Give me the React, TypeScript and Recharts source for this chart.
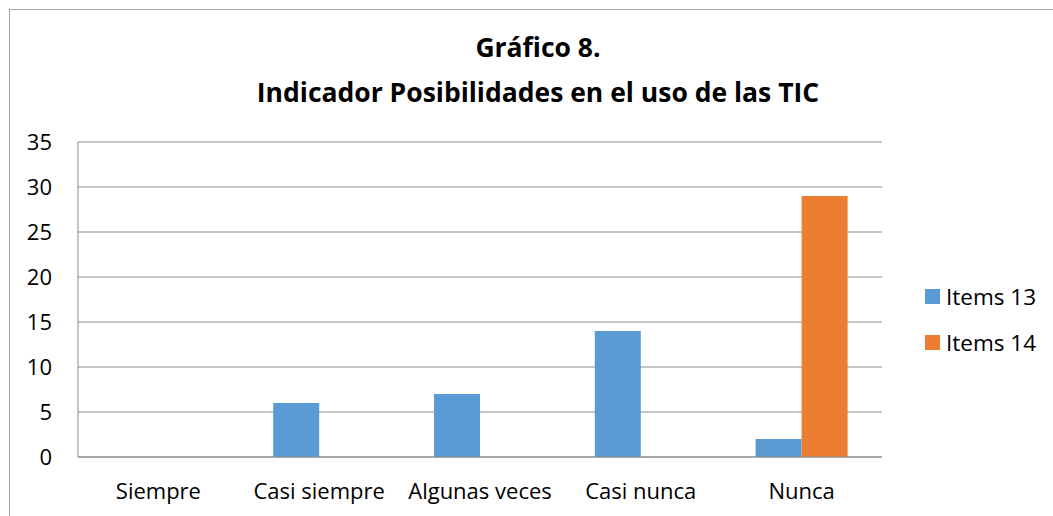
import { BarChart, Bar, XAxis, YAxis, CartesianGrid, Legend } from 'recharts';

const categories = ['Siempre', 'Casi siempre', 'Algunas veces', 'Casi nunca', 'Nunca'];
const items13 = [0, 6, 7, 14, 2];
const items14 = [0, 0, 0, 0, 29];
const yTicks = [0, 5, 10, 15, 20, 25, 30, 35];

const series = [
  { key: 'items13', name: 'Items 13', color: '#5B9BD5' },
  { key: 'items14', name: 'Items 14', color: '#ED7D31' },
];

const data = categories.map((c, i) => ({ name: c, items13: items13[i], items14: items14[i] }));

const FONT = '"Open Sans", sans-serif';
const LEGEND_W = 130;

function LegendBox() {
  return (
    <div style={{ fontFamily: FONT, fontSize: 22.5, color: '#000' }}>
      {series.map((s) => (
        <div key={s.key} style={{ display: 'flex', alignItems: 'center', height: 46 }}>
          <span style={{ width: 15, height: 15, background: s.color, marginRight: 6, display: 'inline-block' }} />
          {s.name}
        </div>
      ))}
    </div>
  );
}

export default function App() {
  return (
    <div style={{ position: 'absolute', left: 0, top: 0, width: 1053, height: 516, background: '#fff', overflow: 'hidden' }}>
      <div style={{ position: 'absolute', left: 9, top: 9, width: 1060, height: 520, border: '1px solid #a6a6a6' }} />
      <div
        style={{
          position: 'absolute', left: 0, top: 25, width: 1076, textAlign: 'center',
          fontFamily: FONT, fontWeight: 'bold', fontSize: 26.5, lineHeight: '45px', color: '#000',
        }}
      >
        Gráfico 8.<br />Indicador Posibilidades en el uso de las TIC
      </div>
      <BarChart
        width={1053}
        height={516}
        data={data}
        margin={{ top: 142, right: 171 - LEGEND_W, bottom: 29, left: 0 }}
        barCategoryGap="21.4%"
        barGap={0}
      >
        <CartesianGrid vertical={false} stroke="#8c8c8c" />
        <XAxis
          dataKey="name"
          height={30}
          tickLine={false}
          tickMargin={20}
          axisLine={{ stroke: '#8c8c8c' }}
          tick={{ fill: '#000', fontSize: 22, fontFamily: FONT }}
          interval={0}
        />
        <YAxis
          width={78}
          domain={[0, 35]}
          ticks={yTicks}
          tickLine={false}
          tickMargin={20}
          axisLine={{ stroke: '#8c8c8c' }}
          tick={{ fill: '#000', fontSize: 22, fontFamily: FONT }}
        />
        <Legend
          layout="horizontal"
          verticalAlign="middle"
          align="right"
          wrapperStyle={{ left: 925, top: 273, width: LEGEND_W }}
          content={() => <LegendBox />}
        />
        {series.map((s) => (
          <Bar key={s.key} dataKey={s.key} name={s.name} fill={s.color} isAnimationActive={false} />
        ))}
      </BarChart>
    </div>
  );
}
